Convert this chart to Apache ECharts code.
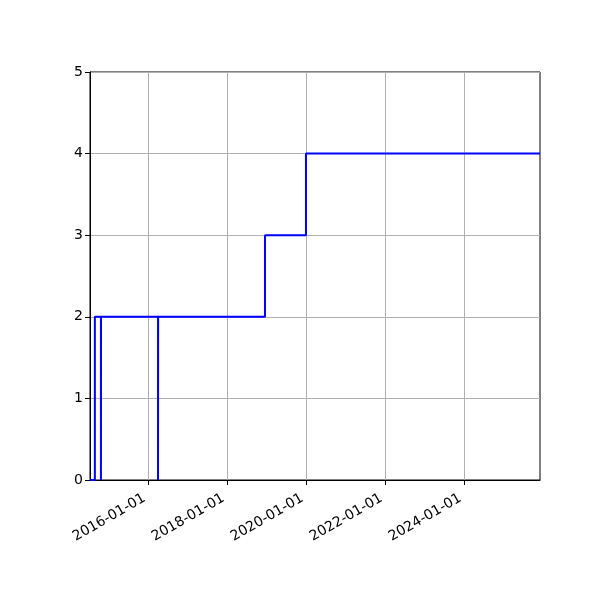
<!DOCTYPE html>
<html>
<head>
<meta charset="utf-8">
<script src="https://cdn.jsdelivr.net/npm/echarts@6/dist/echarts.min.js"></script>
<style>
  html, body { margin: 0; padding: 0; background: #fff; }
  #chart { width: 600px; height: 600px; }
</style>
</head>
<body>
<div id="chart"></div>
<script>
const chart = echarts.init(document.getElementById('chart'));

// step data (steps-post)
const dates = [
  '2014-07-11', '2014-08-25', '2014-10-20', '2014-10-21',
  '2016-03-31', '2016-04-01', '2018-12-15', '2019-12-29', '2025-12-01'
];
const values = [0, 2, 0, 2, 0, 2, 3, 4, 4];

const xTicks = ['2016-01-01', '2018-01-01', '2020-01-01', '2022-01-01', '2024-01-01'];
const yTicks = [0, 1, 2, 3, 4, 5];

const xMin = '2014-07-11';
const xMax = '2025-12-01';

const ts = s => new Date(s + 'T00:00:00Z').getTime();
const pad = n => (n < 10 ? '0' : '') + n;

const option = {
  animation: false,
  grid: {
    left: 90,
    right: 60,
    top: 72,
    bottom: 120,
    show: true,
    borderColor: '#000',
    borderWidth: 1
  },
  xAxis: {
    type: 'value',
    min: ts(xMin),
    max: ts(xMax),
    axisLine: { show: true, lineStyle: { color: '#000', width: 1 } },
    axisTick: {
      show: true,
      inside: false,
      length: 5,
      lineStyle: { color: '#000' },
      customValues: xTicks.map(ts)
    },
    axisLabel: {
      color: '#000',
      fontSize: 14,
      fontFamily: 'DejaVu Sans',
      rotate: 30,
      margin: 15,
      customValues: xTicks.map(ts),
      formatter: function (v) {
        const d = new Date(v);
        // trailing space nudges the rotated label like matplotlib's ha='right'
        return d.getUTCFullYear() + '-' + pad(d.getUTCMonth() + 1) + '-' + pad(d.getUTCDate()) + ' ';
      }
    },
    splitLine: { show: true, lineStyle: { color: '#b0b0b0', width: 1 } }
  },
  yAxis: {
    type: 'value',
    min: yTicks[0],
    max: yTicks[yTicks.length - 1],
    interval: 1,
    axisLine: { show: true, lineStyle: { color: '#000', width: 1 } },
    axisTick: { show: true, inside: false, length: 5, lineStyle: { color: '#000' } },
    axisLabel: {
      color: '#000',
      fontSize: 14,
      fontFamily: 'DejaVu Sans',
      margin: 7
    },
    splitLine: { show: true, lineStyle: { color: '#b0b0b0', width: 1 } }
  },
  series: [{
    type: 'line',
    step: 'end',
    showSymbol: false,
    data: dates.map((d, i) => [ts(d), values[i]]),
    lineStyle: { color: '#0000ff', width: 2 },
    itemStyle: { color: '#0000ff' }
  }]
};

chart.setOption(option);
</script>
</body>
</html>
